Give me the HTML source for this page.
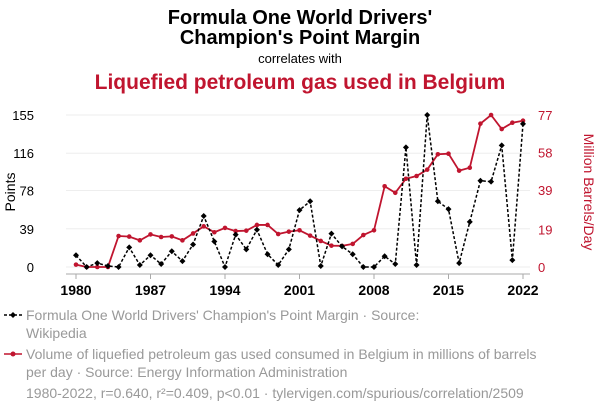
<!DOCTYPE html>
<html><head><meta charset="utf-8"><style>
body{margin:0;background:#fff;font-family:"Liberation Sans",sans-serif}
svg text{font-family:"Liberation Sans",sans-serif}
</style></head><body>
<svg width="600" height="414" viewBox="0 0 600 414">
<text x="300" y="24" text-anchor="middle" font-size="20" font-weight="bold" fill="#000">Formula One World Drivers'</text>
<text x="300" y="44" text-anchor="middle" font-size="20" font-weight="bold" fill="#000">Champion's Point Margin</text>
<text x="300" y="63" text-anchor="middle" font-size="13" fill="#000">correlates with</text>
<text x="300" y="89" text-anchor="middle" font-size="21" font-weight="bold" fill="#c0152f">Liquefied petroleum gas used in Belgium</text>
<g id="grid"></g>
<g id="axes"></g>
<g id="series"></g>
<text transform="translate(15,192) rotate(-90)" text-anchor="middle" font-size="14" fill="#000">Points</text>
<text transform="translate(584,192) rotate(90)" text-anchor="middle" font-size="14" fill="#c0152f">Million Barrels/Day</text>
<g>
<line x1="4" y1="315" x2="22" y2="315" stroke="#000" stroke-width="1.5" stroke-dasharray="3,2"/>
<path d="M13 312 L16 315 L13 318 L10 315Z" fill="#000"/>
<text x="26" y="320" font-size="14" fill="#999">Formula One World Drivers' Champion's Point Margin · Source:</text>
<text x="26" y="338" font-size="14" fill="#999">Wikipedia</text>
</g>
<g>
<line x1="4" y1="354" x2="22" y2="354" stroke="#c0152f" stroke-width="1.5"/>
<circle cx="13" cy="354" r="2.5" fill="#c0152f"/>
<text x="26" y="359" font-size="14" fill="#999">Volume of liquefied petroleum gas used consumed in Belgium in millions of barrels</text>
<text x="26" y="377" font-size="14" fill="#999">per day · Source: Energy Information Administration</text>
</g>
<text x="26" y="398" font-size="14" fill="#999">1980-2022, r=0.640, r²=0.409, p&lt;0.01 · tylervigen.com/spurious/correlation/2509</text>
</svg>
<script>
const years=[];for(let y=1980;y<=2022;y++)years.push(y);
const f1Margin=[12,0,4,1,0,20,2,12,3,16,6,23,52,26,0,33,18,38,13,2,18,58,67,1,34,21,13,0,0,11,3,122,2,155,67,59,4,46,88,87,124,7,146];
const lpg=[1.2,0,0,0,15.7,15.4,13.5,16.5,15.2,15.5,13.5,17,20.6,17.6,19.8,18.2,18.4,21.3,21.3,16.7,17.9,18.6,15.9,13.2,10.8,10.7,11.7,16.2,18.6,40.9,37.6,44.7,46.1,49.3,57.1,57.4,48.8,50.3,72.6,77,69.9,73.1,74.1];
const leftTicks=[0,39,78,116,155];
const rightTicks=[0,19,39,58,77];
const xTicks=[1980,1987,1994,2001,2008,2015,2022];
const NS="http://www.w3.org/2000/svg";
const xS=y=>76+(y-1980)*(523-76)/42;
const yL=v=>267-v*152/155;
const yR=v=>267-v*152/77;
function mk(t,a,p){const e=document.createElementNS(NS,t);for(const k in a)e.setAttribute(k,a[k]);p.appendChild(e);return e;}
const grid=document.getElementById('grid'),axes=document.getElementById('axes'),ser=document.getElementById('series');
leftTicks.forEach((v,i)=>{
 const g=mk('line',{x1:66,x2:530,y1:yL(v),y2:yL(v),stroke:'#eee','stroke-width':1},grid);
 
 
 const t=mk('text',{x:34,y:yL(v)+5,'text-anchor':'end','font-size':13,fill:'#000'},axes);t.textContent=v;
 
 
});
rightTicks.forEach(v=>{
 const t=mk('text',{x:538,y:yR(v)+5,'font-size':13,fill:'#c0152f'},axes);t.textContent=v;
 
 
});
const ax=mk('line',{x1:66,x2:530,y1:274,y2:274,stroke:'#aaa','stroke-width':1},axes);


xTicks.forEach(y=>{
 mk('line',{x1:xS(y),x2:xS(y),y1:274,y2:279,stroke:'#aaa'},axes);
 const t=mk('text',{x:xS(y),y:295,'text-anchor':'middle','font-size':14,'font-weight':'bold',fill:'#000'},axes);t.textContent=y;
 
 
});
const rp=mk('polyline',{points:years.map((y,i)=>xS(y)+','+yR(lpg[i])).join(' '),fill:'none',stroke:'#c0152f','stroke-width':1.8},ser);


years.forEach((y,i)=>{const c=mk('circle',{cx:xS(y),cy:yR(lpg[i]),r:2.3,fill:'#c0152f'},ser);
 
 });
const bp=mk('polyline',{points:years.map((y,i)=>xS(y)+','+yL(f1Margin[i])).join(' '),fill:'none',stroke:'#000','stroke-width':1.5,'stroke-dasharray':'3,2'},ser);


years.forEach((y,i)=>{const x=xS(y),yy=yL(f1Margin[i]);
 const d=mk('path',{d:`M${x} ${yy-3}L${x+3} ${yy}L${x} ${yy+3}L${x-3} ${yy}Z`,fill:'#000'},ser);
 
 });
</script>
</body></html>
